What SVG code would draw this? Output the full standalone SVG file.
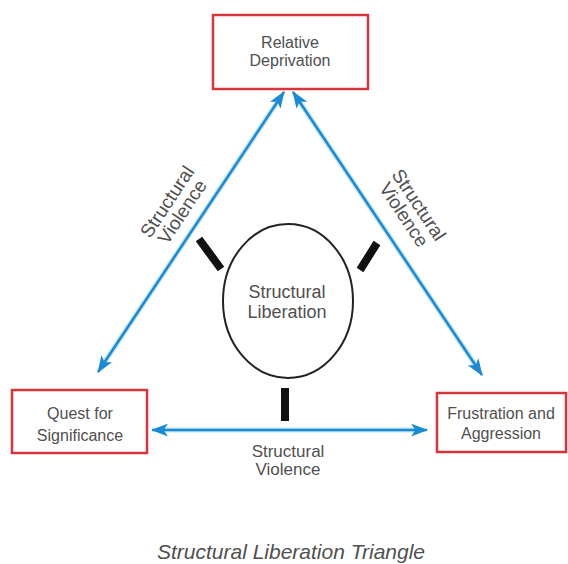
<svg xmlns="http://www.w3.org/2000/svg" width="568" height="564" viewBox="0 0 568 564">
<defs>
<marker id="ah" viewBox="0 0 16 12" refX="15" refY="6" markerWidth="17" markerHeight="13" markerUnits="userSpaceOnUse" orient="auto-start-reverse">
<path d="M0,0 L16,6 L0,12 L4,6 z" fill="#1a8ad4"/>
</marker>
</defs>
<style>
.box{fill:#fff;stroke:#d8343c;stroke-width:2.5}
.t{font-family:"Liberation Sans",Arial,sans-serif;font-size:16px;fill:#505050;text-anchor:middle}
.conn{stroke:#1a8ad4;stroke-width:2.5;fill:none;marker-start:url(#ah);marker-end:url(#ah)}
.halo{stroke:#bfe6f7;stroke-width:5;fill:none}
.bar{stroke:#111;stroke-width:8;stroke-linecap:butt}
</style>
<rect width="568" height="564" fill="#fff"/>
<g id="connectors">
<path class="halo" d="M278,101 L104,363"/>
<path class="halo" d="M299,101 L476,366"/>
<path class="halo" d="M162,430 L417,430"/>
<path class="conn" d="M284,92 L98,372"/>
<path class="conn" d="M293,92 L482,375"/>
<path class="conn" d="M152,430 L427,430"/>
</g>
<g id="labels">
<g transform="translate(175,207) rotate(-56.4)">
<text class="t" x="0" y="-3" style="font-size:19px">Structural</text>
<text class="t" x="0" y="15" style="font-size:19px">Violence</text>
</g>
<g transform="translate(411,210) rotate(56.6)">
<text class="t" x="0" y="-3" style="font-size:19px">Structural</text>
<text class="t" x="0" y="15" style="font-size:19px">Violence</text>
</g>
<text class="t" x="288" y="457" style="font-size:17px">Structural</text>
<text class="t" x="288" y="475" style="font-size:17px">Violence</text>
</g>
<g id="relative-deprivation">
<rect class="box" x="213" y="15" width="155" height="74"/>
<text class="t" x="290" y="48">Relative</text>
<text class="t" x="290" y="66">Deprivation</text>
</g>
<g id="quest-for-significance">
<rect class="box" x="12" y="390" width="135" height="63"/>
<text class="t" x="80" y="419">Quest for</text>
<text class="t" x="80" y="441">Significance</text>
</g>
<g id="frustration-and-aggression">
<rect class="box" x="437" y="393" width="129" height="59"/>
<text class="t" x="501" y="419">Frustration and</text>
<text class="t" x="501" y="439">Aggression</text>
</g>
<g id="structural-liberation">
<ellipse cx="288" cy="301" rx="65" ry="77" fill="#fff" stroke="#222" stroke-width="2"/>
<text class="t" x="287" y="298" style="font-size:18px">Structural</text>
<text class="t" x="287" y="318" style="font-size:18px">Liberation</text>
<line class="bar" x1="199" y1="239" x2="221" y2="269"/>
<line class="bar" x1="377" y1="243" x2="360" y2="270"/>
<line class="bar" x1="285" y1="388" x2="285" y2="421"/>
</g>
<text x="291" y="559" font-family="Liberation Sans, Arial, sans-serif" font-size="21" font-style="italic" fill="#505050" text-anchor="middle">Structural Liberation Triangle</text>
</svg>
